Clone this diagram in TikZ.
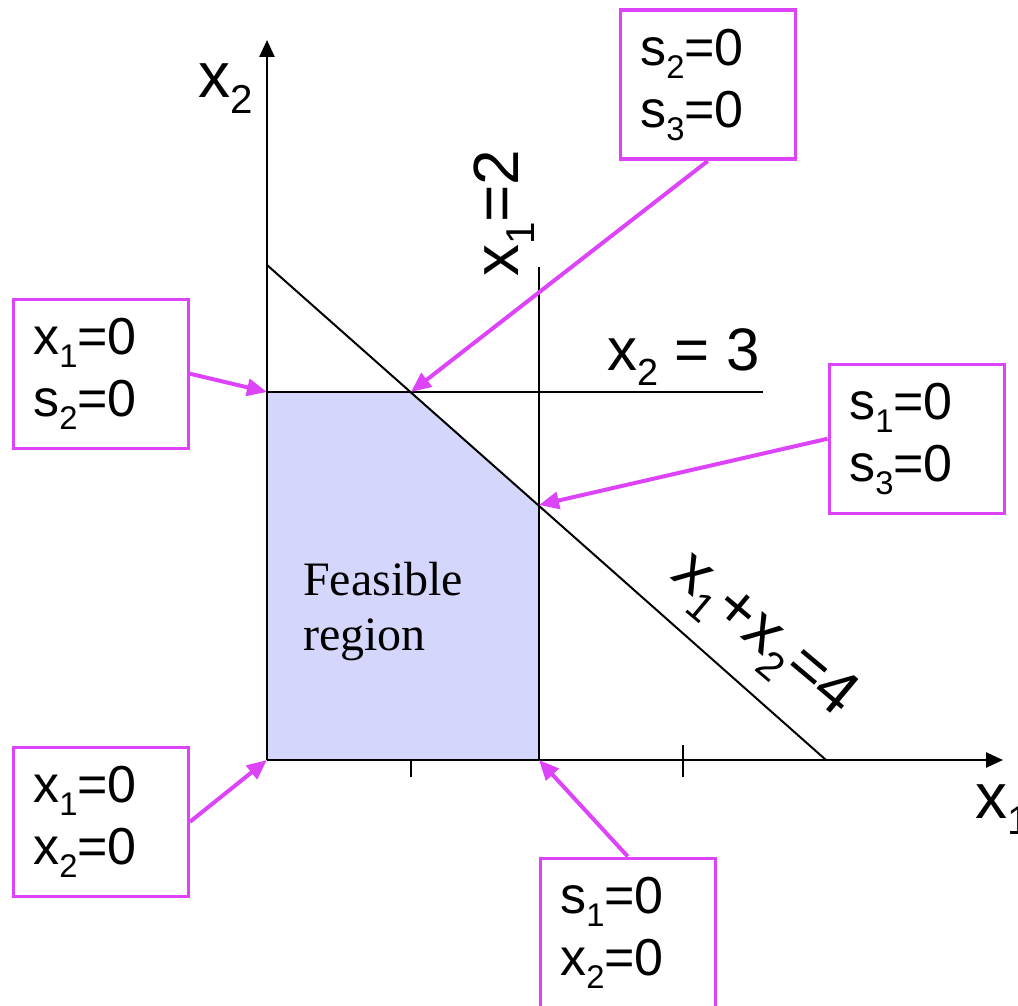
\documentclass[tikz,border=0pt]{standalone}
\usepackage{fontspec}
\setmainfont{Liberation Sans}
\newfontfamily\serifface{Liberation Serif}
\usetikzlibrary{arrows.meta}
\definecolor{mag}{RGB}{221,68,250}
\definecolor{feas}{RGB}{212,214,252}
\newcommand\lo[1]{\raisebox{-0.25em}{\scalebox{0.63}{#1}}}
\begin{document}
\begin{tikzpicture}[x=1pt,y=-1pt,
  box/.style={draw=mag, line width=3.5pt, minimum width=175pt, minimum height=149pt,
    inner xsep=20pt, text width=135pt, align=left, anchor=north west,
    font=\fontsize{52}{62}\selectfont},
  callout/.style={draw=mag, line width=4pt, -{Triangle[length=20pt,width=17pt]}},
  axis/.style={line width=2.5pt, -{Triangle[length=17pt,width=15pt]}},
  cline/.style={line width=2pt},
  big/.style={font=\fontsize{64}{64}\selectfont, inner sep=0pt}]
\useasboundingbox (0,0) rectangle (1018,1006);
% vertices
\coordinate (O) at (267,760);
\coordinate (A) at (267,392);
\coordinate (B) at (411,392);
\coordinate (C) at (539,505);
\coordinate (D) at (539,760);
\coordinate (xend) at (1003,760);
\coordinate (yend) at (267,40);
% feasible region
\fill[feas] (O) -- (A) -- (B) -- (C) -- (D) -- cycle;
% constraint lines
\coordinate (l1) at (267,265);
\coordinate (l2) at (826,760);
\draw[cline] (l1) -- (l2);
\coordinate (h2) at (763,392);
\draw[cline] (A) -- (h2);
\coordinate (v1) at (539,267);
\draw[cline] (v1) -- (D);
% axes
\draw[axis] (O) -- (xend);
\draw[axis] (O) -- (yend);
\coordinate (t1a) at (411,760); \coordinate (t1b) at (411,777);
\coordinate (t2a) at (683,745); \coordinate (t2b) at (683,777);
\draw[line width=2.5pt] (t1a) -- (t1b);
\draw[line width=2.5pt] (t2a) -- (t2b);
% labels
\node[big, anchor=base west] (ly) at (198,98) {x\lo{2}};
\node[big, anchor=base west] (lx) at (975,818) {x\lo{1}};
\node[big, rotate=90, anchor=base west] (lv) at (518,277) {x\lo{1}=2};
\node[font=\fontsize{60}{60}\selectfont, inner sep=0pt, anchor=base west] (lh) at (607,370) {x\lo{2} = 3};
\node[big, rotate=-40] (ld) at (762,637) {x\lo{1}+x\lo{2}=4};
\node[font=\serifface\fontsize{48}{55}\selectfont, align=left, inner sep=0pt, anchor=north west] (fr) at (303,562) {Feasible\\region};
% boxes
\node[box] (b1) at (618.5,8.5) {s\lo{2}=0\\s\lo{3}=0};
\node[box] (b2) at (11.5,297.5) {x\lo{1}=0\\s\lo{2}=0};
\node[box] (b3) at (827.5,362.5) {s\lo{1}=0\\s\lo{3}=0};
\node[box] (b4) at (11.5,745.5) {x\lo{1}=0\\x\lo{2}=0};
\node[box] (b5) at (538.5,856.5) {s\lo{1}=0\\x\lo{2}=0};
% callouts
\draw[callout] (b1.south) -- (B);
\draw[callout] (b2.east) -- (A);
\draw[callout] (b3.west) -- (C);
\draw[callout] (b4.east) -- (O);
\draw[callout] (b5.north) -- (D);
\end{tikzpicture}
\end{document}
